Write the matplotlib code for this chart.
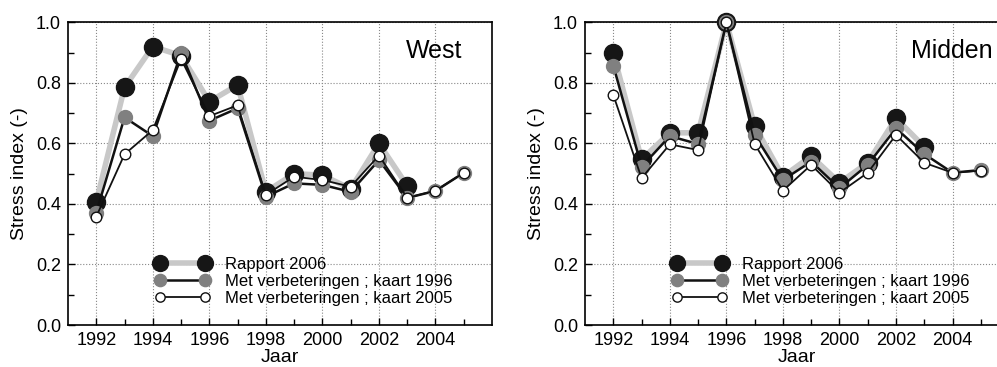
import matplotlib as mpl
mpl.use('Agg')
import matplotlib.pyplot as plt
from matplotlib.ticker import MultipleLocator, FormatStrFormatter

plt.rcParams['font.family'] = ['Liberation Sans', 'DejaVu Sans']

# jaren
years = [1992, 1993, 1994, 1995, 1996, 1997, 1998, 1999, 2000, 2001, 2002, 2003, 2004, 2005]
years_rapport = years[:12]

# West
west_rapport = [0.407, 0.785, 0.92, 0.89, 0.738, 0.793, 0.44, 0.50, 0.495, 0.45, 0.60, 0.46]
west_1996 = [0.371, 0.686, 0.624, 0.898, 0.675, 0.716, 0.424, 0.468, 0.463, 0.44, 0.545, 0.42, 0.443, 0.503]
west_2005 = [0.358, 0.564, 0.644, 0.879, 0.69, 0.726, 0.43, 0.49, 0.479, 0.457, 0.56, 0.42, 0.444, 0.503]

# Midden
midden_rapport = [0.898, 0.547, 0.635, 0.635, 1.0, 0.657, 0.49, 0.558, 0.47, 0.536, 0.683, 0.589]
midden_1996 = [0.857, 0.523, 0.624, 0.598, 1.0, 0.628, 0.479, 0.54, 0.452, 0.529, 0.65, 0.565, 0.503, 0.512]
midden_2005 = [0.76, 0.485, 0.597, 0.578, 1.0, 0.598, 0.444, 0.529, 0.437, 0.503, 0.628, 0.536, 0.503, 0.51]

labels = ['Rapport 2006', 'Met verbeteringen ; kaart 1996', 'Met verbeteringen ; kaart 2005']


def panel(ax, rapport, v1996, v2005, title, title_x):
    ax.plot(years_rapport, rapport, color='#c8c8c8', lw=4.0, marker='o', ms=13,
            mfc='#161616', mec='#161616', clip_on=False, zorder=3, label=labels[0])
    ax.plot(years, v1996, color='#111111', lw=1.8, marker='o', ms=10,
            mfc='#808080', mec='#808080', clip_on=False, zorder=4, label=labels[1])
    ax.plot(years, v2005, color='#111111', lw=1.3, marker='o', ms=7.6,
            mfc='white', mec='#111111', mew=1.0, clip_on=False, zorder=5, label=labels[2])

    ax.set_xlim(1991, 2006)
    ax.set_ylim(0, 1.0)
    ax.set_xticks(range(1992, 2005, 2))
    ax.set_xticks(range(1993, 2006, 2), minor=True)
    ax.yaxis.set_major_locator(MultipleLocator(0.2))
    ax.yaxis.set_minor_locator(MultipleLocator(0.1))
    ax.yaxis.set_major_formatter(FormatStrFormatter('%.1f'))
    ax.tick_params(which='both', direction='in', labelsize=13, width=1.0, pad=5)
    ax.tick_params(which='major', length=5)
    ax.tick_params(which='minor', length=4)
    ax.grid(True, which='major', linestyle=':', color='#888888', lw=0.8)
    for s in ax.spines.values():
        s.set_linewidth(1.2)
    ax.set_xlabel('Jaar', fontsize=14, labelpad=0)
    ax.set_ylabel('Stress index (-)', fontsize=14, labelpad=6)
    ax.text(title_x, 0.905, title, transform=ax.transAxes, fontsize=18,
            ha='right', va='center')
    ax.legend(loc='upper left', bbox_to_anchor=(0.206, 0.224), numpoints=2,
              frameon=False, fontsize=12, handlelength=3.25, handletextpad=0.95,
              labelspacing=0.12, markerscale=0.88, borderpad=0, borderaxespad=0)


fig = plt.figure(figsize=(9.97, 3.67), dpi=100)
ax1 = fig.add_axes([0.0682, 0.1144, 0.4253, 0.8248])
ax2 = fig.add_axes([0.5868, 0.1144, 0.4253, 0.8248])

panel(ax1, west_rapport, west_1996, west_2005, 'West', 0.93)
panel(ax2, midden_rapport, midden_1996, midden_2005, 'Midden', 0.962)

plt.savefig('out.png', dpi=100)
